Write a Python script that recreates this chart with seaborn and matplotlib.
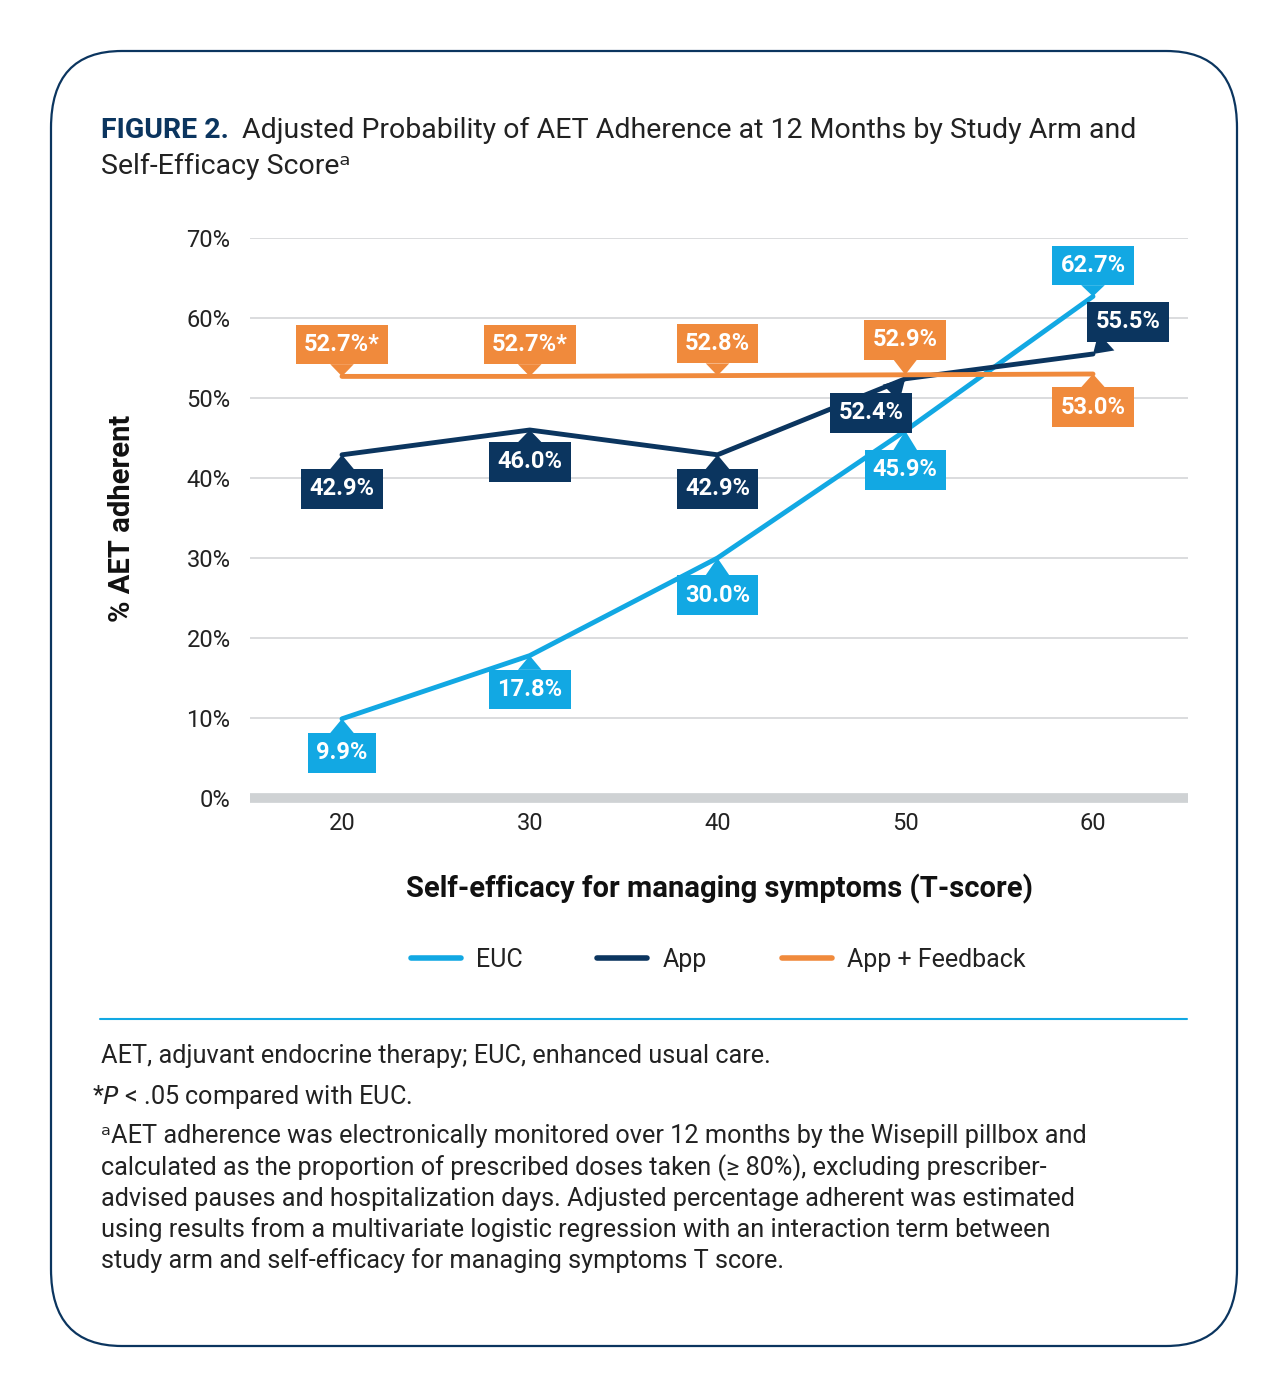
import matplotlib.pyplot as plt
import seaborn as sns
import pandas as pd
from matplotlib.patches import FancyBboxPatch
from matplotlib.lines import Line2D

# ------------------------------------
# Data
# ------------------------------------
scores = [20, 30, 40, 50, 60]
euc = [9.9, 17.8, 30.0, 45.9, 62.7]
app = [42.9, 46.0, 42.9, 52.4, 55.5]
feedback = [52.7, 52.7, 52.8, 52.9, 53.0]
feedback_labels = ["52.7%*", "52.7%*", "52.8%", "52.9%", "53.0%"]
arms = ["EUC", "App", "App + Feedback"]

CYAN = "#12a8e3"
NAVY = "#0b355f"
ORANGE = "#f08a3c"
colors = {"EUC": CYAN, "App": NAVY, "App + Feedback": ORANGE}

df = pd.DataFrame({
    "score": scores * 3,
    "pct": euc + app + feedback,
    "arm": [a for a in arms for _ in scores],
})

sns.set_theme(style="white")
plt.rcParams["font.family"] = ["Roboto", "DejaVu Sans"]

fig = plt.figure(figsize=(12.88, 13.98), dpi=100)

# rounded frame
frame = FancyBboxPatch((51 / 1288, 1 - 1346 / 1398), 1186 / 1288, 1295 / 1398,
                       boxstyle="round,pad=0,rounding_size=0.055",
                       transform=fig.transFigure, fill=False,
                       edgecolor=NAVY, linewidth=1.6)
fig.patches.append(frame)

ax = fig.add_axes([250 / 1288, 1 - 798 / 1398, 938 / 1288, 560 / 1398])
sns.lineplot(data=df, x="score", y="pct", hue="arm", palette=colors,
             linewidth=3.5, ax=ax, legend=False)

ax.set_xlim(15.1, 65.06)
ax.set_ylim(0, 70)
ax.set_yticks(range(0, 71, 10))
ax.set_yticklabels([f"{v}%" for v in range(0, 71, 10)])
ax.set_xticks(scores)
ax.tick_params(axis="both", labelsize=17, colors="#222222", length=0, pad=14)
ax.tick_params(axis="x", pad=10)
for s in ax.spines.values():
    s.set_visible(False)
ax.grid(axis="y", color="#d4d6d8", linewidth=1.2)
ax.axhline(0, color="#cfd2d4", linewidth=7, clip_on=False, zorder=1,
           solid_capstyle="butt")
ax.set_xlabel("Self-efficacy for managing symptoms (T-score)",
              fontsize=21, fontweight="bold", labelpad=28, color="#111111")
ax.set_ylabel("% AET adherent", fontsize=21, fontweight="bold",
              labelpad=36, color="#111111")


def callout(x, y, text, color, dx, dy):
    ax.annotate(text, xy=(x, y), xytext=(dx, dy), textcoords="offset pixels",
                ha="center", va="center", fontsize=17, fontweight="bold",
                color="white", zorder=5,
                bbox=dict(boxstyle="square,pad=0.35", fc=color, ec="none"),
                arrowprops=dict(arrowstyle="wedge,tail_width=1.0", fc=color,
                                ec="none", shrinkA=0, shrinkB=0))


euc_off = [(0, -34), (0, -34), (0, -37), (0, -39), (0, 31)]
app_off = [(0, -34), (0, -32), (0, -34), (-34, -34), (35, 32)]
fb_off = [(0, 32), (0, 32), (0, 32), (0, 35), (0, -33)]
for i, x in enumerate(scores):
    callout(x, euc[i], f"{euc[i]:.1f}%", CYAN, *euc_off[i])
    callout(x, app[i], f"{app[i]:.1f}%", NAVY, *app_off[i])
    callout(x, feedback[i], feedback_labels[i], ORANGE, *fb_off[i])

# legend
handles = [Line2D([], [], color=colors[a], linewidth=4) for a in arms]
fig.legend(handles, arms, loc="center", bbox_to_anchor=(718 / 1288, 1 - 960 / 1398),
           ncol=3, frameon=False, fontsize=18, handlelength=2.0,
           handletextpad=0.6, columnspacing=3.0, labelcolor="#222222")

# title
fig.text(101 / 1288, 1 - 130 / 1398, "FIGURE 2.", fontsize=20.5, fontweight="bold",
         color=NAVY, va="center")
fig.text(242 / 1288, 1 - 130 / 1398,
         "Adjusted Probability of AET Adherence at 12 Months by Study Arm and",
         fontsize=20.5, color="#222222", va="center")
fig.text(101 / 1288, 1 - 166 / 1398, "Self-Efficacy Score\u1d43",
         fontsize=20.5, color="#222222", va="center")

# footnotes
fig.add_artist(Line2D([100 / 1288, 1187 / 1288], [1 - 1019 / 1398] * 2,
                      color=CYAN, linewidth=1.5, transform=fig.transFigure))
fig.text(101 / 1288, 1 - 1056 / 1398,
         "AET, adjuvant endocrine therapy; EUC, enhanced usual care.",
         fontsize=18.2, color="#222222", va="center")
fig.text(92 / 1288, 1 - 1097 / 1398, "*$P$ < .05 compared with EUC.",
         fontsize=18.2, color="#222222", va="center")
foot = ("\u1d43AET adherence was electronically monitored over 12 months by the Wisepill pillbox and\n"
        "calculated as the proportion of prescribed doses taken (\u2265 80%), excluding prescriber-\n"
        "advised pauses and hospitalization days. Adjusted percentage adherent was estimated\n"
        "using results from a multivariate logistic regression with an interaction term between\n"
        "study arm and self-efficacy for managing symptoms T score.")
fig.text(101 / 1288, 1 - 1124 / 1398, foot, fontsize=18.2, color="#222222",
         va="top", linespacing=1.3)

fig.savefig("out.png", dpi=100)
